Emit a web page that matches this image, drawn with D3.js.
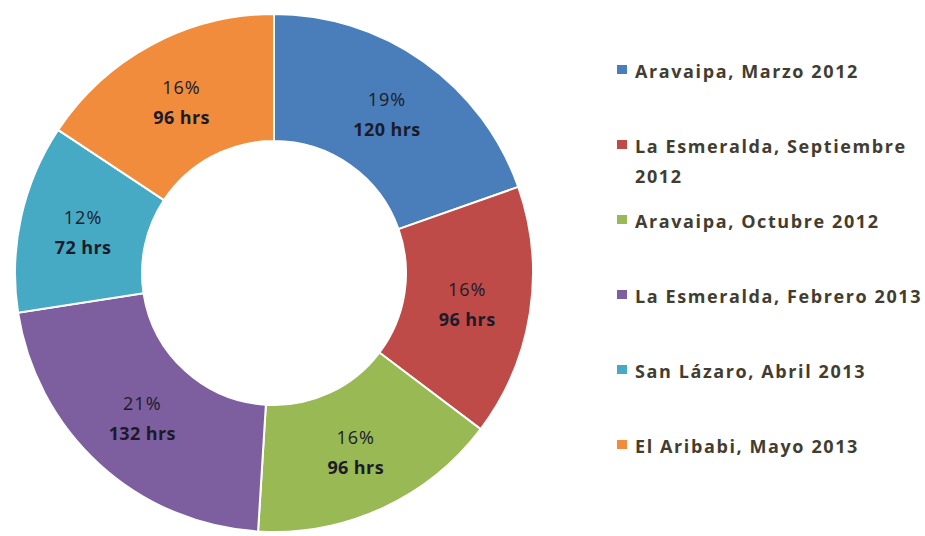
<!DOCTYPE html>
<html>
<head>
<meta charset="utf-8">
<script src="https://cdn.jsdelivr.net/npm/d3@7"></script>
<style>
  body { margin: 0; background: #fff; }
  svg { display: block; font-family: "Open Sans", Lato, sans-serif; }
</style>
</head>
<body>
<svg id="chart" width="925" height="536"></svg>
<script>
'use strict';

// Data
const categories = [
  'Aravaipa, Marzo 2012',
  'La Esmeralda, Septiembre 2012',
  'Aravaipa, Octubre 2012',
  'La Esmeralda, Febrero 2013',
  'San Lázaro, Abril 2013',
  'El Aribabi, Mayo 2013'
];
const hours = [120, 96, 96, 132, 72, 96];
const percents = [19, 16, 16, 21, 12, 16]; // as printed on the chart
const colors = ['#4a7ebb', '#be4b48', '#98b954', '#7d5fa0', '#46aac5', '#f08c3c'];

const width = 925, height = 536;
const cx = 274, cy = 273;
const outerR = 259, innerR = 132;

const svg = d3.select('#chart');

const data = categories.map((c, i) => ({ name: c, value: hours[i], pct: percents[i], color: colors[i] }));

const pie = d3.pie().sort(null).value(d => d.value);
const arc = d3.arc().innerRadius(innerR).outerRadius(outerR);

const g = svg.append('g').attr('transform', `translate(${cx},${cy})`);

//Slices
g.selectAll('path.slice')
  .data(pie(data))
  .join('path')
  .attr('class', 'slice')
  .attr('d', arc)
  .attr('fill', d => d.data.color)
  .attr('stroke', '#fff')
  .attr('stroke-width', 2);

//Labels: percentage + hours
const labels = g.selectAll('g.label')
  .data(pie(data))
  .join('g')
  .attr('class', 'label')
  .attr('transform', d => `translate(${arc.centroid(d)})`);

labels.append('text')
  .attr('text-anchor', 'middle')
  .attr('y', -7)
  .attr('font-size', 18)
  .attr('letter-spacing', 1)
  .attr('fill', '#1b1b2a')
  .text(d => d.data.pct + '%');

labels.append('text')
  .attr('text-anchor', 'middle')
  .attr('y', 23)
  .attr('font-size', 18)
  .attr('font-weight', 'bold')
  .attr('letter-spacing', 0.4)
  .attr('fill', '#1b1b2a')
  .text(d => d.data.value + ' hrs');

//Legend
const legendX = 617, legendY0 = 72, legendStep = 75, maxTextW = width - 636;
const legend = svg.append('g');

const items = legend.selectAll('g.item')
  .data(data)
  .join('g')
  .attr('class', 'item')
  .attr('transform', (d, i) => `translate(${legendX},${legendY0 + i * legendStep})`);

items.append('rect')
  .attr('x', 0)
  .attr('y', -7)
  .attr('width', 10)
  .attr('height', 9)
  .attr('fill', d => d.color);

items.append('text')
  .attr('x', 18)
  .attr('y', 6)
  .attr('font-size', 18)
  .attr('font-weight', 'bold')
  .attr('letter-spacing', 1.6)
  .attr('fill', '#423d30')
  .each(function(d) {
    // simple word wrap
    const text = d3.select(this);
    const words = d.name.split(' ');
    let line = [];
    let tspan = text.append('tspan').attr('x', 18).attr('dy', 0);
    words.forEach(w => {
      line.push(w);
      tspan.text(line.join(' '));
      if (tspan.node().getComputedTextLength() > maxTextW && line.length > 1) {
        line.pop();
        tspan.text(line.join(' '));
        line = [w];
        tspan = text.append('tspan').attr('x', 18).attr('dy', 30).text(w);
      }
    });
  });
</script>
</body>
</html>
